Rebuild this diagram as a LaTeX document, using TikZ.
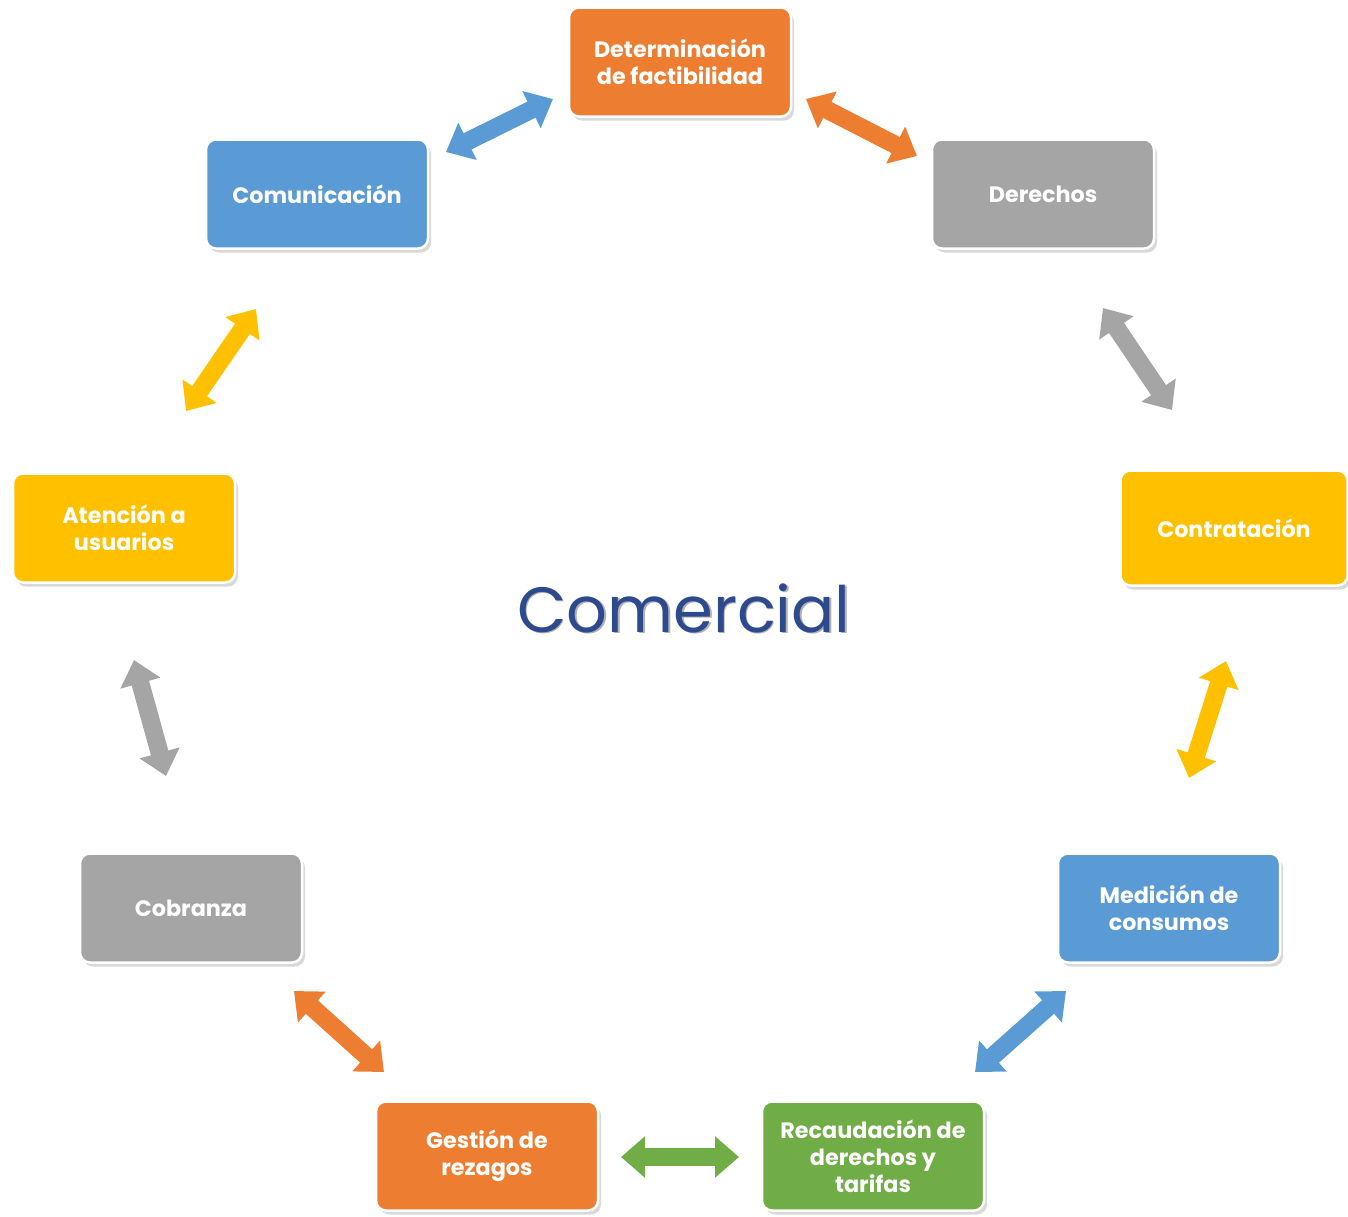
\documentclass[tikz,border=0pt]{standalone}
\usepackage{fontspec}
\setmainfont{Poppins}
\usetikzlibrary{arrows.meta,shadows}
\definecolor{cOrange}{HTML}{ED7D31}
\definecolor{cBlue}{HTML}{5B9BD5}
\definecolor{cGray}{HTML}{A5A5A5}
\definecolor{cYellow}{HTML}{FFC000}
\definecolor{cGreen}{HTML}{70AD47}
\definecolor{cTitle}{HTML}{2E4A8E}
\begin{document}
\begin{tikzpicture}[x=1pt,y=-1pt,
  box/.style={rounded corners=10pt, draw=white, line width=2.5pt,
    minimum width=222pt, minimum height=109pt, align=center, text=white,
    font=\bfseries\fontsize{22.3}{27}\selectfont,
    drop shadow={opacity=0.3, shadow xshift=3pt, shadow yshift=-4pt}},
  link/.style={line width=18pt,
    {Triangle[length=24pt,width=40pt]}-{Triangle[length=24pt,width=40pt]}}]
\useasboundingbox (0,0) rectangle (1348,1216);

\node[box, fill=cOrange] (det) at (680,62) {Determinación\\de factibilidad};
\node[box, fill=cBlue] (com) at (317,194) {Comunicación};
\node[box, fill=cGray] (der) at (1043,194) {Derechos};
\node[box, fill=cYellow] (ate) at (124,528) {Atención a\\usuarios};
\node[box, fill=cYellow, minimum width=227pt, minimum height=115pt] (con) at (1234,528) {Contratación};
\node[box, fill=cBlue] (med) at (1169,908) {Medición de\\consumos};
\node[box, fill=cGray] (cob) at (191,908) {Cobranza};
\node[box, fill=cOrange] (ges) at (487,1156) {Gestión de\\rezagos};
\node[box, fill=cGreen] (rec) at (873,1156) {Recaudación de\\derechos y\\tarifas};

\node[font=\fontsize{64}{72}\selectfont, text=black!30] (titleshadow) at (685.5,609.5) {Comercial};
\node[font=\fontsize{64}{72}\selectfont, text=cTitle] (title) at (684,608) {Comercial};

\coordinate (a1s) at (446,152); \coordinate (a1e) at (553,99);
\coordinate (a2s) at (806,99);  \coordinate (a2e) at (917,156);
\coordinate (a3s) at (1103,308); \coordinate (a3e) at (1172,410);
\coordinate (a4s) at (1226,661); \coordinate (a4e) at (1189,778);
\coordinate (a5s) at (1066,991); \coordinate (a5e) at (975,1072);
\coordinate (a6s) at (739,1157); \coordinate (a6e) at (621,1157);
\coordinate (a7s) at (384,1072); \coordinate (a7e) at (294,991);
\coordinate (a8s) at (166,776); \coordinate (a8e) at (134,660);
\coordinate (a9s) at (186,411); \coordinate (a9e) at (256,309);

\draw[link, cBlue] (a1s) -- (a1e);
\draw[link, cOrange] (a2s) -- (a2e);
\draw[link, cGray] (a3s) -- (a3e);
\draw[link, cYellow] (a4s) -- (a4e);
\draw[link, cBlue] (a5s) -- (a5e);
\draw[link, cGreen] (a6s) -- (a6e);
\draw[link, cOrange] (a7s) -- (a7e);
\draw[link, cGray] (a8s) -- (a8e);
\draw[link, cYellow] (a9s) -- (a9e);
\end{tikzpicture}
\end{document}
